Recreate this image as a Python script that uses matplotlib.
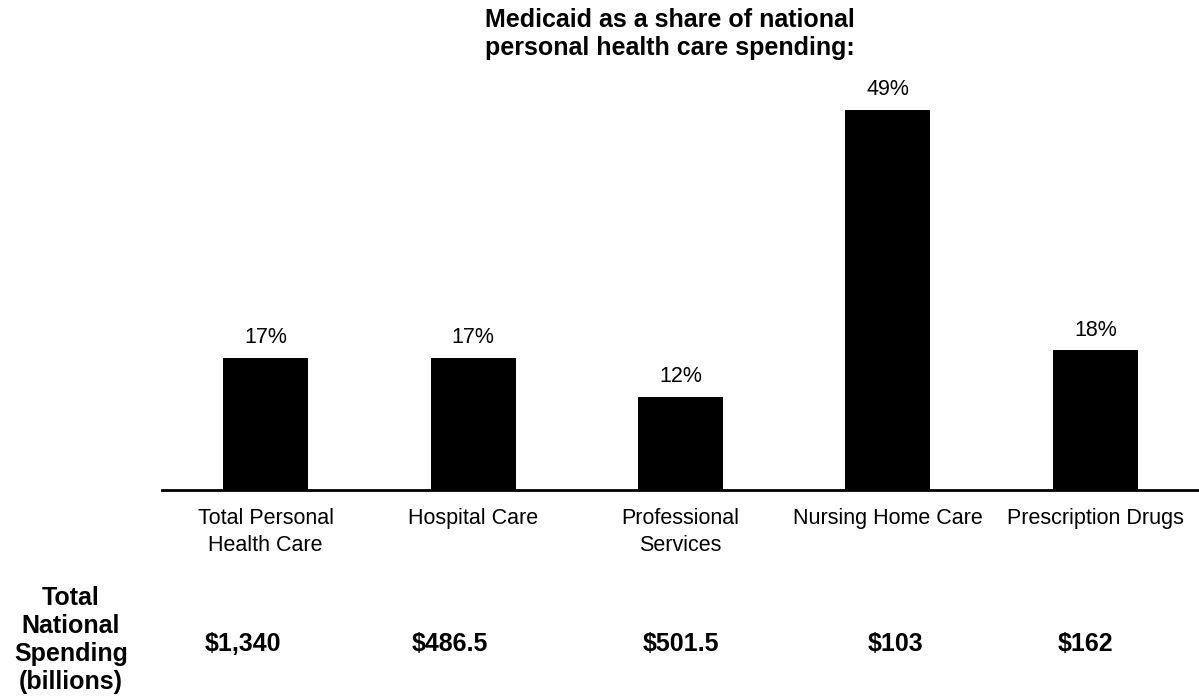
import matplotlib
matplotlib.use('Agg')
import matplotlib.pyplot as plt
import matplotlib.transforms as mtransforms

plt.rcParams['font.family'] = ['Liberation Sans', 'DejaVu Sans']

# Данные
categories = ['Total Personal\nHealth Care', 'Hospital Care', 'Professional\nServices',
              'Nursing Home Care', 'Prescription Drugs']
medicaid_share = [17, 17, 12, 49, 18]
share_labels = ['17%', '17%', '12%', '49%', '18%']
national_spending = ['$1,340', '$486.5', '$501.5', '$103', '$162']

# сдвиг подписей нижней строки относительно столбцов (в долях категории)
spend_dx = [-0.11, -0.11, 0.0, 0.035, -0.045]

fig = plt.figure(figsize=(11.99, 7), dpi=100)
ax = fig.add_axes([162 / 1199, 0.3, 1 - 162 / 1199, 0.5764])

x = list(range(len(categories)))
bars = ax.bar(x, medicaid_share, width=0.41, color='black')

for rect, lab in zip(bars, share_labels):
    ax.annotate(lab, (rect.get_x() + rect.get_width() / 2, rect.get_height()),
                xytext=(0, 7), textcoords='offset points',
                ha='center', va='bottom', fontsize=15.5)

ax.set_xlim(-0.5, 4.5)
ax.set_ylim(0, 52)
ax.set_xticks(x)
ax.set_xticklabels(categories, fontsize=15.5, linespacing=1.4)
ax.tick_params(axis='x', length=0, pad=13)
ax.set_yticks([])
for s in ['top', 'right', 'left']:
    ax.spines[s].set_visible(False)
ax.spines['bottom'].set_linewidth(2)

# Нижняя строка: расходы
trans = mtransforms.blended_transform_factory(ax.transData, fig.transFigure)
for i, val in enumerate(national_spending):
    ax.text(i + spend_dx[i], 1 - 644 / 700, val, transform=trans,
            ha='center', va='center', fontsize=18, fontweight='bold')

fig.text(71 / 1199, 1 - 640 / 700, 'Total\nNational\nSpending\n(billions)',
         ha='center', va='center', fontsize=18, fontweight='bold',
         multialignment='center', linespacing=1.2)

fig.text(485 / 1199, 1 - 8 / 700,
         'Medicaid as a share of national\npersonal health care spending:',
         ha='left', va='top', fontsize=18, fontweight='bold', linespacing=1.2)

fig.savefig('out.png', dpi=100)
